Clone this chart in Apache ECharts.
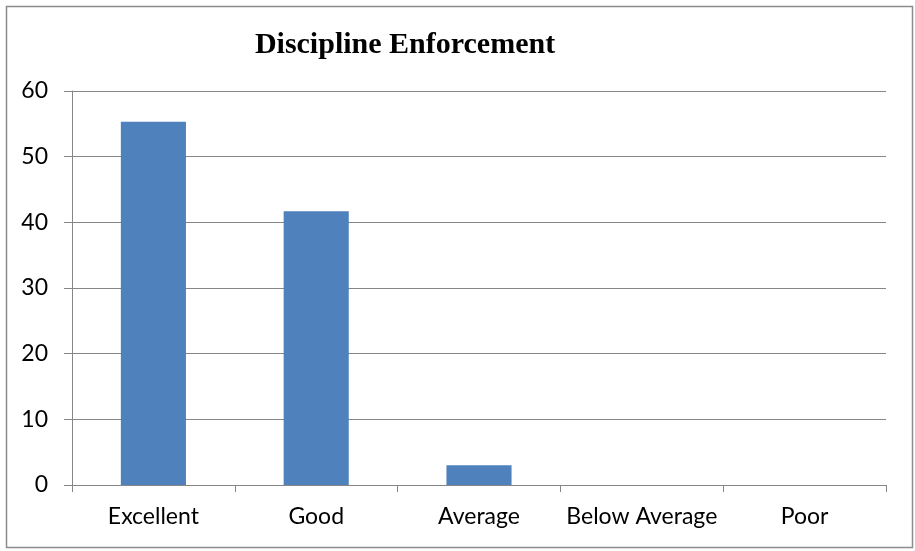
<!DOCTYPE html>
<html>
<head>
<meta charset="utf-8">
<script src="https://cdn.jsdelivr.net/npm/echarts@6/dist/echarts.min.js"></script>
<style>
  html, body { margin: 0; padding: 0; background: #fff; }
  #chart { width: 915px; height: 551px; }
</style>
</head>
<body>
<div id="chart"></div>
<script>
// data
const categories = ['Excellent', 'Good', 'Average', 'Below Average', 'Poor']
const values = [55.3, 41.7, 3.0, 0, 0]
const yTicks = { min: 0, max: 60, interval: 10 }

const chart = echarts.init(document.getElementById('chart'))

chart.setOption({
  animation: false,
  title: {
    text: 'Discipline Enforcement',
    left: 400,
    top: 25,
    textAlign: 'center',
    textStyle: {
      fontFamily: '"Liberation Serif", "DejaVu Serif", serif',
      fontWeight: 'bold',
      fontSize: 30,
      color: '#000',
    },
  },
  grid: { left: 72, right: 29, top: 91, bottom: 66 },
  xAxis: {
    type: 'category',
    data: categories,
    axisLine: { lineStyle: { color: '#868686', width: 1 } },
    axisTick: { show: true, length: 7, alignWithLabel: false, lineStyle: { color: '#868686' } },
    axisLabel: {
      margin: 20,
      color: '#000',
      fontSize: 23,
      fontFamily: 'Lato, "Open Sans", sans-serif',
      interval: 0,
    },
  },
  yAxis: {
    type: 'value',
    min: yTicks.min,
    max: yTicks.max,
    interval: yTicks.interval,
    axisLine: { show: true, lineStyle: { color: '#868686', width: 1 } },
    axisTick: { show: true, inside: false, length: 8, lineStyle: { color: '#868686' } },
    axisLabel: {
      margin: 24,
      color: '#000',
      fontSize: 23,
      fontFamily: 'Lato, "Open Sans", sans-serif',
    },
    splitLine: { lineStyle: { color: '#868686', width: 1 } },
  },
  series: [
    {
      type: 'bar',
      data: values,
      barCategoryGap: '60%',
      itemStyle: {
        color: '#4F81BD',
        borderWidth: 0,
      },
    },
  ],
  graphic: [
    {
      type: 'rect',
      shape: { x: 6.5, y: 6.5, width: 906, height: 541 },
      style: { fill: 'none', stroke: '#8c8c8c', lineWidth: 1.5 },
      silent: true,
    },
  ],
})
</script>
</body>
</html>
